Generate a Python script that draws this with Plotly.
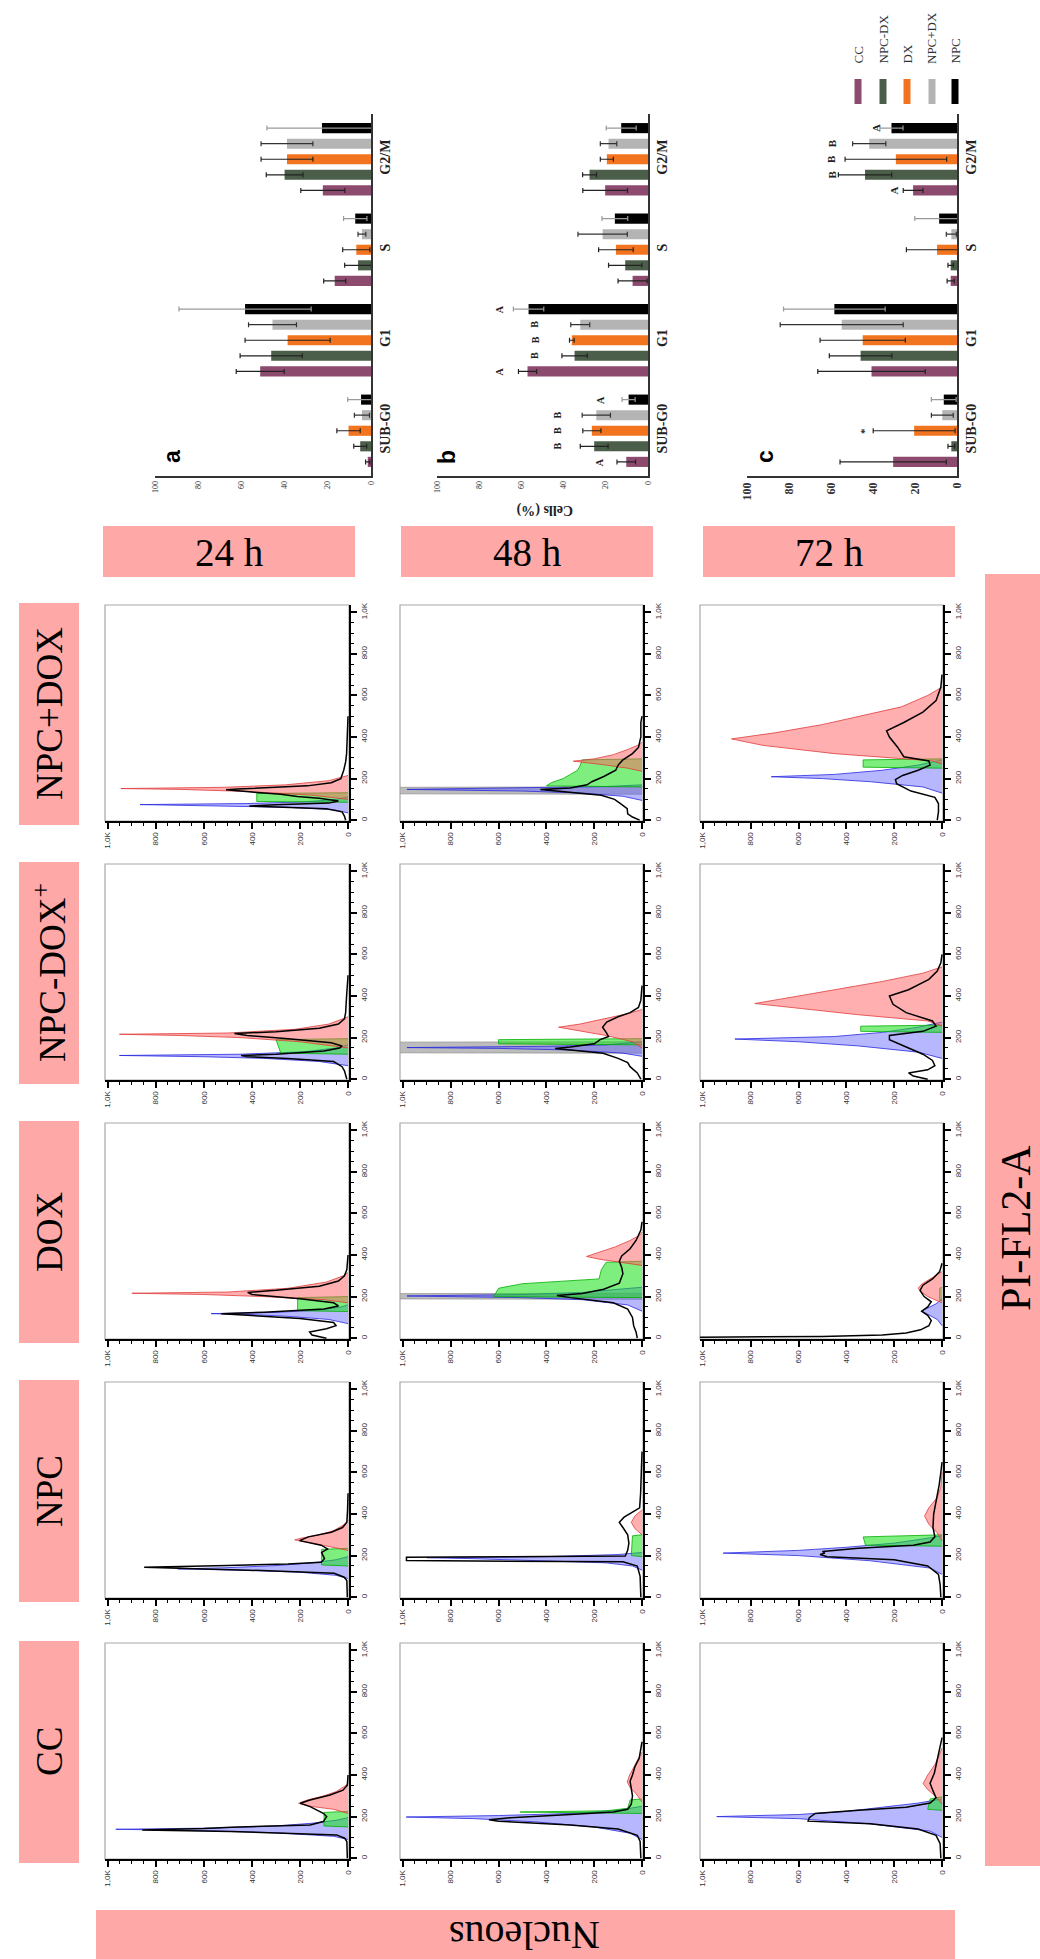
import plotly.graph_objects as go

W, H = 1040, 1959

# ---------------- categories / text ----------------
CONDITIONS = ["NPC+DOX", "NPC-DOX<sup>+</sup>", "DOX", "NPC", "CC"]   # histogram rows, top -> bottom
TIMES = ["24 h", "48 h", "72 h"]                                       # histogram columns
PHASES = ["SUB-G0", "G1", "S", "G2/M"]
GROUPS = ["CC", "NPC-DX", "DX", "NPC+DX", "NPC"]
GROUP_COLORS = ["#8C4A6E", "#4B5E49", "#F3741E", "#B4B4B4", "#000000"]
ERR_COLORS = ["#222222", "#222222", "#222222", "#333333", "#9A9A9A"]
HIST_TICKS = [0, 200, 400, 600, 800, 1000]
HIST_TICKTEXT = ["0", "200", "400", "600", "800", "1,0K"]
PCT_TICKS = [0, 20, 40, 60, 80, 100]

# ---------------- bar charts: % of cells per phase ----------------
CELLS_24H = {"CC": [1.5, 51.3, 16.8, 22.3], "NPC-DX": [5.0, 46.2, 6.0, 40.0], "DX": [10.4, 38.6, 6.8, 38.9],
             "NPC+DX": [4.2, 45.6, 4.2, 38.9], "NPC": [4.6, 58.3, 7.3, 22.7]}
ERR_24H = {"CC": [1.0, 11.1, 5.1, 10.2], "NPC-DX": [3.0, 14.4, 6.2, 8.5], "DX": [5.4, 19.7, 6.3, 12.0],
           "NPC+DX": [3.5, 11.1, 1.8, 12.0], "NPC": [6.2, 30.6, 5.4, 25.5]}
CELLS_48H = {"CC": [10.3, 57.1, 7.3, 20.3], "NPC-DX": [25.5, 34.8, 10.8, 27.7], "DX": [26.6, 36.1, 15.2, 19.5],
             "NPC+DX": [24.5, 32.1, 21.5, 18.7], "NPC": [9.2, 56.6, 15.7, 12.7]}
ERR_48H = {"CC": [4.4, 4.3, 6.9, 10.6], "NPC-DX": [6.6, 6.0, 7.9, 3.3], "DX": [4.3, 1.1, 8.2, 3.1],
           "NPC+DX": [6.7, 4.5, 11.7, 3.9], "NPC": [3.1, 7.2, 6.1, 7.1]}
CELLS_72H = {"CC": [30.4, 40.7, 3.0, 20.9], "NPC-DX": [2.7, 45.9, 3.0, 43.8], "DX": [20.4, 44.9, 9.5, 29.1],
             "NPC+DX": [7.0, 54.9, 2.7, 41.8], "NPC": [6.3, 58.4, 8.5, 31.2]}
ERR_72H = {"CC": [25.3, 25.6, 1.7, 4.7], "NPC-DX": [1.6, 14.9, 1.3, 12.7], "DX": [19.5, 20.3, 14.6, 24.2],
           "NPC+DX": [5.2, 29.3, 2.4, 7.9], "NPC": [5.9, 24.2, 11.6, 5.5]}
# significance letters: (phase, group, text, position in %)
LETTERS_48H = [("SUB-G0", "CC", "A", 22.6), ("SUB-G0", "NPC-DX", "B", 43), ("SUB-G0", "DX", "B", 43),
               ("SUB-G0", "NPC+DX", "B", 43), ("SUB-G0", "NPC", "A", 22.6),
               ("G1", "CC", "A", 70.6), ("G1", "NPC-DX", "B", 53.5), ("G1", "DX", "B", 53.5),
               ("G1", "NPC+DX", "B", 53.5), ("G1", "NPC", "A", 70.6)]
LETTERS_72H = [("SUB-G0", "DX", "*", 44.6),
               ("G2/M", "CC", "A", 30.0), ("G2/M", "NPC-DX", "B", 59.7), ("G2/M", "DX", "B", 59.7),
               ("G2/M", "NPC+DX", "B", 59.7), ("G2/M", "NPC", "A", 38.6)]

# ---------------- DNA histograms: curve = (PI-FL2-A, nucleus count) ----------------
H_NPCDOX_24 = {
    "G1": ([35, 50, 62, 70, 75, 80, 88, 100, 112], [0, 60, 250, 600, 866, 420, 180, 50, 0]),
    "S": ([86, 90, 128, 132], [0, 380, 380, 0]),
    "G2": ([100, 120, 138, 148, 152, 158, 170, 190, 215], [0, 150, 420, 700, 946, 520, 260, 80, 0]),
    "DATA": ([0, 20, 40, 55, 63, 68, 74, 82, 92, 105, 114, 125, 135, 146, 150, 156, 165, 180, 200, 240, 280, 320, 400, 500],
             [10, 15, 25, 90, 300, 411, 300, 80, 40, 120, 211, 280, 400, 508, 460, 330, 170, 70, 30, 18, 10, 6, 3, 0]),
}
H_NPCDOX_48 = {
    "GRAY": ([125, 127, 158, 160], [0, 1100, 1100, 0]),
    "G1": ([95, 115, 130, 140, 148, 155, 162, 170], [0, 80, 250, 500, 983, 450, 150, 0]),
    "S": ([160, 165, 180, 200, 220, 240, 260, 290, 295], [0, 400, 380, 330, 300, 270, 260, 250, 0]),
    "G2": ([235, 250, 265, 278, 284, 295, 315, 340, 364, 375], [0, 60, 150, 250, 287, 200, 120, 60, 10, 0]),
    "DATA": ([0, 15, 30, 55, 80, 100, 120, 135, 148, 155, 170, 185, 210, 240, 265, 290, 320, 350, 400, 470, 500],
             [10, 40, 60, 62, 90, 115, 170, 300, 425, 300, 230, 210, 160, 110, 100, 80, 40, 15, 5, 5, 0]),
}
H_NPCDOX_72 = {
    "G1": ([130, 160, 185, 200, 209, 220, 240, 265, 290], [0, 80, 300, 500, 714, 450, 250, 100, 0]),
    "S": ([250, 255, 290, 295], [0, 330, 330, 0]),
    "G2": ([270, 285, 320, 360, 391, 420, 460, 500, 545, 600, 640], [0, 40, 450, 750, 880, 700, 500, 350, 170, 60, 0]),
    "DATA": ([0, 40, 80, 110, 140, 175, 195, 215, 240, 265, 285, 305, 350, 400, 430, 470, 520, 575, 640, 700],
             [20, 15, 15, 30, 130, 190, 195, 165, 100, 50, 55, 160, 185, 220, 232, 160, 80, 25, 5, 0]),
}
H_NPCDOXP_24 = {
    "G1": ([65, 85, 100, 108, 114, 120, 132, 150, 165], [0, 120, 350, 600, 952, 450, 180, 50, 0]),
    "S": ([120, 125, 190, 195], [0, 280, 300, 0]),
    "G2": ([150, 180, 200, 210, 216, 222, 240, 265, 300], [0, 200, 450, 700, 952, 500, 220, 80, 0]),
    "DATA": ([0, 40, 60, 85, 100, 108, 114, 120, 135, 150, 160, 175, 195, 210, 220, 228, 245, 265, 290, 320, 400, 500],
             [5, 15, 25, 60, 250, 420, 445, 300, 100, 35, 25, 70, 250, 420, 473, 300, 120, 40, 15, 10, 6, 0]),
}
H_NPCDOXP_48 = {
    "GRAY": ([125, 127, 178, 180], [0, 1100, 1100, 0]),
    "G1": ([110, 125, 140, 148, 152, 158, 165, 180], [0, 80, 300, 600, 983, 400, 150, 0]),
    "S": ([165, 170, 190, 195], [0, 600, 600, 0]),
    "G2": ([150, 180, 210, 235, 250, 265, 290, 315, 335], [0, 40, 150, 280, 349, 260, 160, 60, 0]),
    "DATA": ([0, 30, 60, 80, 100, 125, 140, 148, 155, 170, 190, 205, 225, 250, 275, 300, 320, 345, 380, 450],
             [5, 20, 50, 60, 100, 163, 300, 363, 300, 200, 175, 140, 150, 165, 148, 100, 50, 15, 5, 0]),
}
H_NPCDOXP_72 = {
    "G1": ([100, 130, 160, 180, 193, 205, 225, 250, 275], [0, 100, 350, 600, 866, 450, 250, 100, 0]),
    "S": ([225, 230, 255, 260], [0, 340, 340, 0]),
    "G2": ([255, 280, 310, 340, 364, 390, 430, 470, 510, 540], [0, 60, 350, 600, 783, 650, 450, 250, 80, 0]),
    "DATA": ([0, 15, 30, 45, 65, 90, 120, 160, 190, 210, 230, 255, 280, 320, 360, 400, 430, 480, 520, 560, 600],
             [60, 120, 140, 60, 30, 40, 80, 160, 220, 220, 80, 25, 40, 150, 205, 220, 140, 55, 20, 5, 0]),
}
H_DOX_24 = {
    "G1": ([70, 90, 105, 113, 118, 124, 135, 150, 160], [0, 80, 250, 400, 570, 300, 120, 30, 0]),
    "S": ([128, 132, 195, 200], [0, 210, 210, 0]),
    "G2": ([170, 185, 200, 210, 216, 222, 240, 270, 300, 315], [0, 100, 350, 600, 900, 500, 250, 90, 20, 0]),
    "DATA": ([0, 15, 30, 45, 60, 75, 95, 110, 118, 125, 140, 155, 170, 190, 210, 220, 230, 250, 275, 300, 330, 400],
             [90, 150, 160, 90, 50, 60, 200, 450, 528, 350, 100, 40, 60, 200, 400, 418, 300, 120, 40, 15, 5, 0]),
}
H_DOX_48 = {
    "GRAY": ([187, 189, 214, 216], [0, 1100, 1100, 0]),
    "G1": ([130, 160, 185, 195, 203, 210, 220, 235, 245], [0, 60, 250, 500, 983, 500, 250, 80, 0]),
    "S": ([195, 200, 240, 262, 285, 330, 365, 370], [0, 620, 600, 500, 180, 170, 150, 0]),
    "G2": ([350, 365, 380, 393, 410, 440, 470, 495, 510], [0, 100, 180, 232, 190, 110, 50, 10, 0]),
    "DATA": ([0, 30, 60, 100, 140, 170, 195, 205, 215, 235, 265, 310, 340, 370, 395, 430, 470, 520, 560],
             [20, 25, 35, 40, 60, 120, 300, 356, 250, 160, 95, 80, 85, 95, 85, 50, 25, 5, 0]),
}
H_DOX_72 = {
    "G1": ([60, 90, 115, 130, 145, 165, 190], [0, 20, 60, 87, 60, 25, 0]),
    "S": ([180, 185, 240, 245], [0, 10, 10, 0]),
    "G2": ([170, 200, 225, 240, 260, 285, 320], [0, 60, 90, 100, 85, 50, 0]),
    "DATA": ([0, 4, 8, 15, 25, 40, 60, 85, 110, 130, 150, 175, 200, 230, 255, 285, 320, 360],
             [1100, 1100, 500, 250, 150, 90, 55, 45, 60, 85, 60, 45, 75, 92, 80, 40, 10, 0]),
}
H_NPC_24 = {
    "G1": ([90, 105, 120, 130, 136, 142, 152, 165, 180, 195], [0, 50, 200, 450, 709, 500, 300, 150, 50, 0]),
    "S": ([150, 155, 230, 235], [0, 110, 110, 0]),
    "G2": ([225, 240, 260, 270, 276, 285, 300, 320, 350, 370], [0, 60, 150, 200, 222, 190, 120, 60, 15, 0]),
    "DATA": ([0, 80, 96, 115, 128, 144, 152, 160, 168, 185, 215, 232, 250, 272, 290, 312, 335, 360, 420, 500],
             [3, 5, 16, 58, 360, 849, 500, 250, 112, 98, 110, 85, 112, 202, 165, 70, 23, 5, 2, 0]),
}
H_NPC_48 = {
    "G1": ([130, 150, 165, 175, 185, 190, 195, 205, 215], [0, 40, 150, 400, 700, 900, 400, 100, 0]),
    "S": ([195, 200, 295, 300], [0, 45, 40, 0]),
    "G2": ([300, 330, 360, 390, 420], [0, 30, 45, 30, 0]),
    "DATA": ([0, 100, 150, 170, 176, 192, 198, 225, 260, 300, 335, 360, 385, 410, 430, 500, 650, 700],
             [5, 8, 20, 80, 985, 985, 70, 60, 55, 60, 80, 95, 75, 40, 10, 6, 3, 0]),
}
H_NPC_72 = {
    "G1": ([110, 140, 175, 200, 212, 225, 240, 260, 280, 295], [0, 50, 300, 600, 915, 600, 400, 200, 80, 0]),
    "S": ([245, 250, 290, 300], [0, 320, 330, 0]),
    "G2": ([270, 310, 350, 391, 430, 480, 530, 600], [0, 20, 55, 73, 55, 20, 5, 0]),
    "DATA": ([0, 60, 110, 150, 180, 195, 205, 212, 220, 235, 250, 265, 290, 335, 400, 460, 540, 600, 650],
             [5, 8, 15, 60, 200, 480, 510, 490, 500, 350, 120, 50, 30, 38, 35, 25, 12, 5, 0]),
}
H_CC_24 = {
    "G1": ([90, 105, 122, 132, 139, 145, 155, 168, 182, 195], [0, 60, 300, 600, 967, 550, 300, 150, 50, 0]),
    "S": ([150, 155, 220, 225], [0, 100, 100, 0]),
    "G2": ([215, 235, 250, 264, 280, 300, 320, 345, 360], [0, 60, 160, 206, 170, 100, 50, 15, 0]),
    "DATA": ([0, 80, 96, 112, 128, 136, 143, 149, 160, 176, 200, 216, 248, 264, 280, 304, 327, 351, 400],
             [3, 5, 14, 48, 487, 857, 600, 487, 158, 103, 89, 103, 158, 199, 158, 75, 21, 3, 0]),
}
H_CC_48 = {
    "G1": ([90, 120, 150, 175, 190, 198, 205, 215, 230, 250], [0, 50, 200, 450, 700, 986, 600, 300, 100, 0]),
    "S": ([215, 222, 228, 240, 280, 285], [0, 510, 150, 60, 50, 0]),
    "G2": ([270, 310, 340, 367, 400, 440, 480, 510], [0, 25, 50, 62, 52, 35, 15, 0]),
    "DATA": ([0, 80, 110, 140, 160, 178, 185, 195, 210, 222, 235, 260, 300, 340, 370, 400, 440, 480, 520, 560],
             [5, 8, 20, 100, 300, 600, 640, 550, 300, 120, 60, 45, 40, 45, 50, 40, 30, 12, 5, 0]),
}
H_CC_72 = {
    "G1": ([100, 130, 165, 190, 200, 210, 225, 245, 265, 285], [0, 50, 300, 600, 942, 600, 400, 250, 100, 0]),
    "S": ([230, 235, 285, 295], [0, 60, 50, 0]),
    "G2": ([260, 300, 330, 359, 400, 450, 500, 530], [0, 30, 60, 79, 60, 30, 10, 0]),
    "DATA": ([0, 70, 110, 140, 165, 178, 195, 215, 230, 245, 265, 290, 330, 360, 410, 460, 520, 580],
             [5, 8, 25, 100, 300, 560, 555, 530, 350, 150, 50, 25, 40, 50, 32, 22, 10, 0]),
}
HISTS = [
    [H_NPCDOX_24, H_NPCDOX_48, H_NPCDOX_72],
    [H_NPCDOXP_24, H_NPCDOXP_48, H_NPCDOXP_72],
    [H_DOX_24, H_DOX_48, H_DOX_72],
    [H_NPC_24, H_NPC_48, H_NPC_72],
    [H_CC_24, H_CC_48, H_CC_72],
]

# ---------------- layout geometry (pixels) ----------------
COL_X = [(105, 349), (400, 643), (700, 943)]
ROW_TOP = [605, 864, 1123, 1382, 1643]
PANEL_H = 216
BAR_X = [(155, 371), (437, 648), (747, 957)]
BAR_Y = (114, 476)
PINK = "#FFA8A8"
SERIF = "Liberation Serif"
SANS = "Liberation Sans"

STYLE = {
    "GRAY": dict(line="rgb(150,150,150)", fill="rgba(165,165,165,0.75)"),
    "G1": dict(line="rgb(40,40,225)", fill="rgba(95,95,255,0.45)"),
    "S": dict(line="rgb(0,175,0)", fill="rgba(20,225,20,0.55)"),
    "G2": dict(line="rgb(225,60,60)", fill="rgba(255,95,95,0.5)"),
}


def px(x):
    return x / W


def py(y):
    return 1 - y / H


def note(x, y, text, size, angle=0, family=SERIF, weight="normal", color="black", xanchor="center",
         yanchor="middle"):
    return dict(x=px(x), y=py(y), xref="paper", yref="paper", text=text, showarrow=False, textangle=angle,
                xanchor=xanchor, yanchor=yanchor,
                font=dict(family=family, size=size, color=color, weight=weight))


fig = go.Figure()
layout = dict(width=W, height=H, margin=dict(l=0, r=0, t=0, b=0), autosize=False,
              paper_bgcolor="white", plot_bgcolor="white", template="none",
              showlegend=False, barmode="group", bargap=0.14, bargroupgap=0.35)
shapes, annotations = [], []

# ---------------- histogram panels ----------------
k = 0
for r, row in enumerate(HISTS):
    for c, hist in enumerate(row):
        k += 1
        xa, ya = f"x{k}", f"y{k}"
        for comp in ["GRAY", "G1", "S", "G2"]:
            if comp in hist:
                pi, cnt = hist[comp]
                fig.add_trace(go.Scatter(x=cnt, y=pi, mode="lines", fill="tozerox",
                                         fillcolor=STYLE[comp]["fill"],
                                         line=dict(color=STYLE[comp]["line"], width=0.8),
                                         xaxis=xa, yaxis=ya, hoverinfo="skip"))
        pi, cnt = hist["DATA"]
        fig.add_trace(go.Scatter(x=cnt, y=pi, mode="lines", line=dict(color="black", width=1.5),
                                 xaxis=xa, yaxis=ya, hoverinfo="skip"))
        x0, x1 = COL_X[c]
        top = ROW_TOP[r]
        bottom = top + PANEL_H
        common = dict(showgrid=False, zeroline=False, showline=True, linecolor="black", linewidth=2,
                      ticks="outside", ticklen=6, tickwidth=2, tickcolor="black",
                      tickmode="array", tickvals=HIST_TICKS, ticktext=HIST_TICKTEXT, tickangle=-90,
                      tickfont=dict(family=SANS, size=8, color="#333"),
                      minor=dict(ticks="outside", ticklen=3, tickwidth=1.2, tickcolor="black", dtick=50, tick0=0),
                      fixedrange=True)
        layout[f"xaxis{k}"] = dict(domain=[px(x0), px(x1)], range=[1012, -4], anchor=ya, **common)
        layout[f"yaxis{k}"] = dict(domain=[py(bottom), py(top)], range=[-4, 1035], anchor=xa, side="right", **common)
        shapes.append(dict(type="rect", xref="paper", yref="paper", x0=px(x0), x1=px(x1), y0=py(bottom), y1=py(top),
                           line=dict(color="#A8A8A8", width=1.2), layer="below"))

# ---------------- bar charts ----------------
BAR_DATA = [(CELLS_24H, ERR_24H), (CELLS_48H, ERR_48H), (CELLS_72H, ERR_72H)]
for j, (vals, errs) in enumerate(BAR_DATA):
    k += 1
    xa, ya = f"x{k}", f"y{k}"
    for g, grp in enumerate(GROUPS):
        fig.add_trace(go.Bar(y=PHASES, x=vals[grp], orientation="h", name=grp,
                             marker=dict(color=GROUP_COLORS[g], line=dict(width=0)),
                             error_x=dict(type="data", array=errs[grp], color=ERR_COLORS[g], thickness=1.2, width=2.5),
                             xaxis=xa, yaxis=ya, hoverinfo="skip"))
    x0, x1 = BAR_X[j]
    big = (j == 2)
    layout[f"xaxis{k}"] = dict(domain=[px(x0), px(x1)], range=[100, 0], anchor=ya, showgrid=False, zeroline=False,
                               showline=True, linecolor="#333", linewidth=1.5, ticks="",
                               tickmode="array", tickvals=PCT_TICKS, tickangle=-90,
                               tickfont=dict(family=SERIF, size=12 if big else 8, color="#333",
                                             weight="bold" if big else "normal"),
                               fixedrange=True)
    layout[f"yaxis{k}"] = dict(domain=[py(BAR_Y[1]), py(BAR_Y[0])], anchor=xa, side="right", type="category",
                               categoryorder="array", categoryarray=PHASES, showgrid=False, zeroline=False,
                               showline=True, linecolor="#333", linewidth=1.5, ticks="", tickangle=-90,
                               tickfont=dict(family=SERIF, size=14, color="#222", weight="bold"),
                               fixedrange=True)

# letter annotations for b and c
slot = (1 - 0.14) / len(GROUPS)
for kk, letters, size in [(k - 1, LETTERS_48H, 10), (k, LETTERS_72H, 11)]:
    for phase, grp, txt, pos in letters:
        yy = PHASES.index(phase) - (1 - 0.14) / 2 + slot * (GROUPS.index(grp) + 0.5)
        annotations.append(dict(x=pos, y=yy, xref=f"x{kk}", yref=f"y{kk}", text=txt, showarrow=False,
                                textangle=-90, xanchor="center", yanchor="middle",
                                font=dict(family=SERIF, size=size, color="#222", weight="bold")))

# panel letters a, b, c
for txt, (x, y) in zip(["a", "b", "c"], [(172, 457), (447, 457), (765, 457)]):
    annotations.append(note(x, y, txt, 23, angle=-90, family=SANS, weight="bold"))
annotations.append(note(545, 510, "Cells (%)", 14, angle=180, weight="bold", color="#222"))

# legend (rotated)
LEG_X = [858, 883, 907, 932, 955]
for g, grp in enumerate(GROUPS):
    shapes.append(dict(type="rect", xref="paper", yref="paper", x0=px(LEG_X[g] - 3.5), x1=px(LEG_X[g] + 3.5),
                       y0=py(104), y1=py(79), fillcolor=GROUP_COLORS[g], line=dict(width=0)))
    annotations.append(note(LEG_X[g], 66, grp, 13, angle=-90, color="#333", yanchor="bottom"))

# ---------------- pink header boxes ----------------
for r, cond in enumerate(CONDITIONS):
    top = ROW_TOP[r]
    shapes.append(dict(type="rect", xref="paper", yref="paper", x0=px(19), x1=px(79), y0=py(top + 220),
                       y1=py(top - 2), fillcolor=PINK, line=dict(width=0), layer="below"))
    annotations.append(note(49, top + 109, cond, 37, angle=-90))
TIME_BOX = [(103, 355), (401, 653), (703, 955)]
for t, (x0, x1) in zip(TIMES, TIME_BOX):
    shapes.append(dict(type="rect", xref="paper", yref="paper", x0=px(x0), x1=px(x1), y0=py(577), y1=py(526),
                       fillcolor=PINK, line=dict(width=0), layer="below"))
    annotations.append(note((x0 + x1) / 2, 552, t, 39))
shapes.append(dict(type="rect", xref="paper", yref="paper", x0=px(96), x1=px(955), y0=py(1959), y1=py(1910),
                   fillcolor=PINK, line=dict(width=0), layer="below"))
annotations.append(note(525, 1936, "Nucleous", 40, angle=180))
shapes.append(dict(type="rect", xref="paper", yref="paper", x0=px(985), x1=px(1040), y0=py(1866), y1=py(574),
                   fillcolor=PINK, line=dict(width=0), layer="below"))
annotations.append(note(1016, 1228, "PI-FL2-A", 42, angle=-90))

layout["shapes"] = shapes
layout["annotations"] = annotations
fig.update_layout(**layout)
fig.write_html("out.html")
